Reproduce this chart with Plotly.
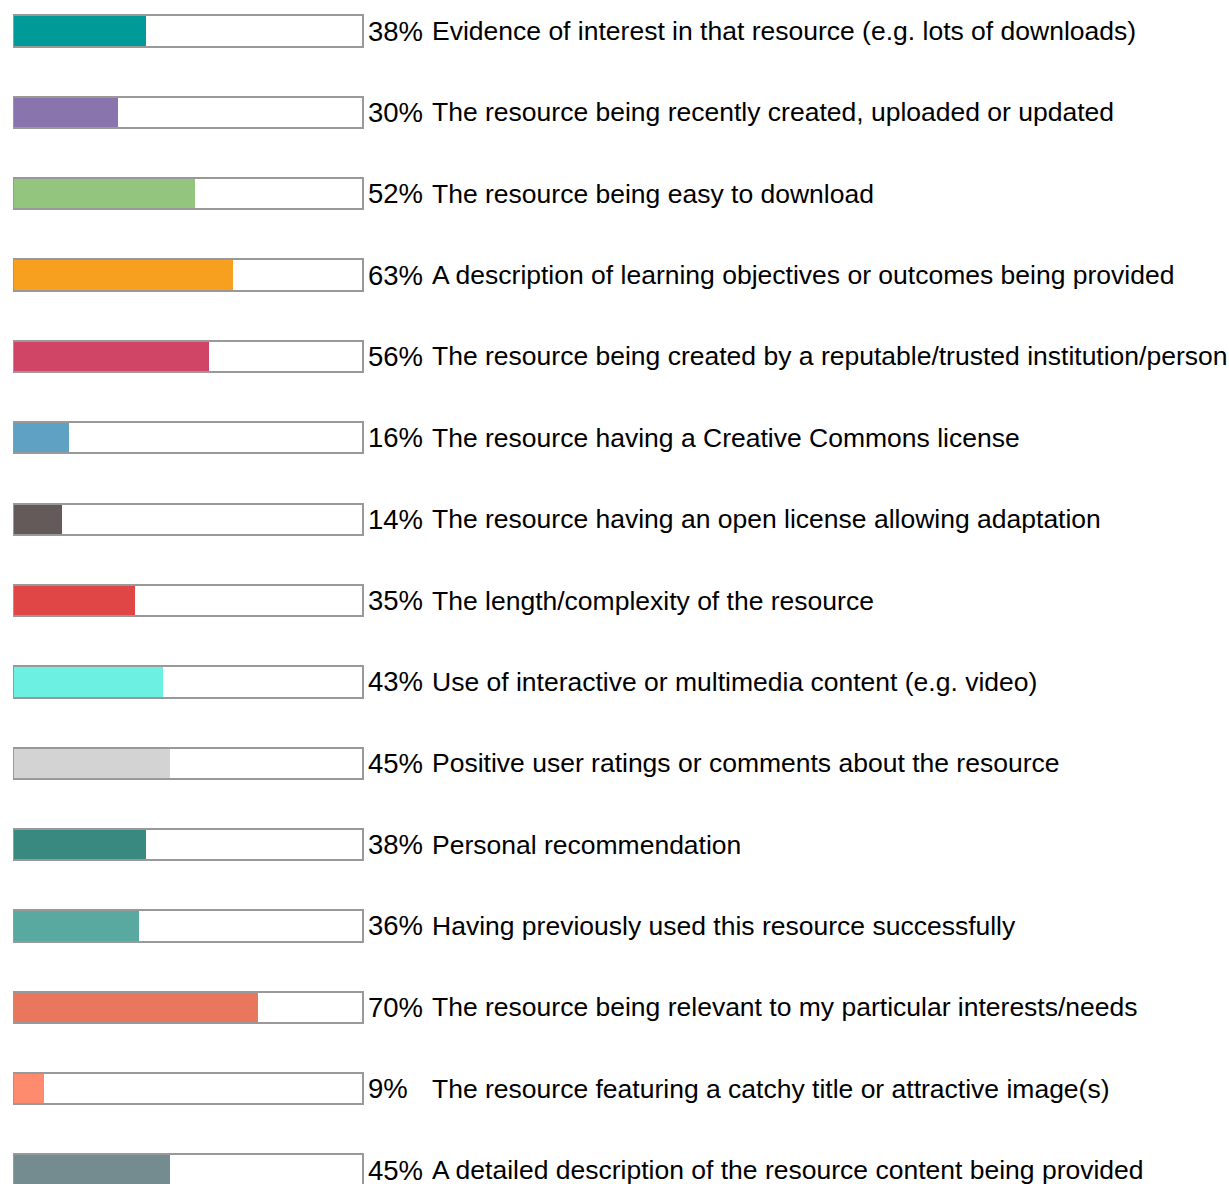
"""Survey bar chart: factors influencing choice of a learning resource."""

import plotly.graph_objects as go

LABELS = [
    "Evidence of interest in that resource (e.g. lots of downloads)",
    "The resource being recently created, uploaded or updated",
    "The resource being easy to download",
    "A description of learning objectives or outcomes being provided",
    "The resource being created by a reputable/trusted institution/person",
    "The resource having a Creative Commons license",
    "The resource having an open license allowing adaptation",
    "The length/complexity of the resource",
    "Use of interactive or multimedia content (e.g. video)",
    "Positive user ratings or comments about the resource",
    "Personal recommendation",
    "Having previously used this resource successfully",
    "The resource being relevant to my particular interests/needs",
    "The resource featuring a catchy title or attractive image(s)",
    "A detailed description of the resource content being provided",
]

PERCENTS = [38, 30, 52, 63, 56, 16, 14, 35, 43, 45, 38, 36, 70, 9, 45]

COLORS = [
    "#009b98", "#8a74ae", "#93c57e", "#f79f1f", "#d04565",
    "#5ea1c3", "#645a59", "#e04646", "#6cf0e2", "#d3d3d3",
    "#3a8981", "#5aa9a1", "#e8775e", "#ff8b6e", "#748b8f",
]

FULL = [100] * len(PERCENTS)
rows = list(range(len(LABELS)))

BORDER = "#999999"
FONT = "Liberation Sans, Arial, Helvetica, sans-serif"
BAR_W = 0.385

FIG_W = 1229
FIG_H = 1184
LEFT = 13
PX_PER_PCT = 3.496
PX_PER_ROW = 81.36

fig = go.Figure()

# white background box
fig.add_trace(
    go.Bar(
        x=FULL,
        y=rows,
        orientation="h",
        width=BAR_W,
        marker={"color": "white", "line": {"width": 0}},
        hoverinfo="skip",
        showlegend=False,
    )
)

# coloured fill
fig.add_trace(
    go.Bar(
        x=PERCENTS,
        y=rows,
        orientation="h",
        width=BAR_W,
        marker={"color": COLORS, "line": {"width": 0}},
        showlegend=False,
    )
)

# grey outline on top
fig.add_trace(
    go.Bar(
        x=FULL,
        y=rows,
        orientation="h",
        width=BAR_W,
        marker={"color": "rgba(0,0,0,0)", "line": {"width": 2, "color": BORDER}},
        hoverinfo="skip",
        showlegend=False,
    )
)

annotations = []
for i, (pct, label) in enumerate(zip(PERCENTS, LABELS)):
    annotations.append(
        dict(
            x=101.0, y=i, xref="x", yref="y",
            text=f"{pct}%", showarrow=False,
            xanchor="left", yanchor="middle",
            font={"size": 27.5, "color": "black", "family": FONT},
        )
    )
    annotations.append(
        dict(
            x=119.2, y=i, xref="x", yref="y",
            text=label, showarrow=False,
            xanchor="left", yanchor="middle",
            font={"size": 26.5, "color": "black", "family": FONT},
        )
    )

top = -31 / PX_PER_ROW
bottom = top + FIG_H / PX_PER_ROW

fig.update_layout(
    width=FIG_W,
    height=FIG_H,
    barmode="overlay",
    bargap=0,
    margin={"l": LEFT, "r": 0, "t": 0, "b": 0},
    paper_bgcolor="white",
    plot_bgcolor="white",
    annotations=annotations,
    xaxis={
        "range": [0, (FIG_W - LEFT) / PX_PER_PCT],
        "visible": False,
        "showgrid": False,
        "zeroline": False,
    },
    yaxis={
        "range": [bottom, top],
        "visible": False,
        "showgrid": False,
        "zeroline": False,
    },
)

# drop the default 8px page margin so the figure fills the window exactly
fig.write_html(
    "out.html",
    config={"displayModeBar": False},
    post_script="document.body.style.margin='0';document.body.style.overflow='hidden';",
)
